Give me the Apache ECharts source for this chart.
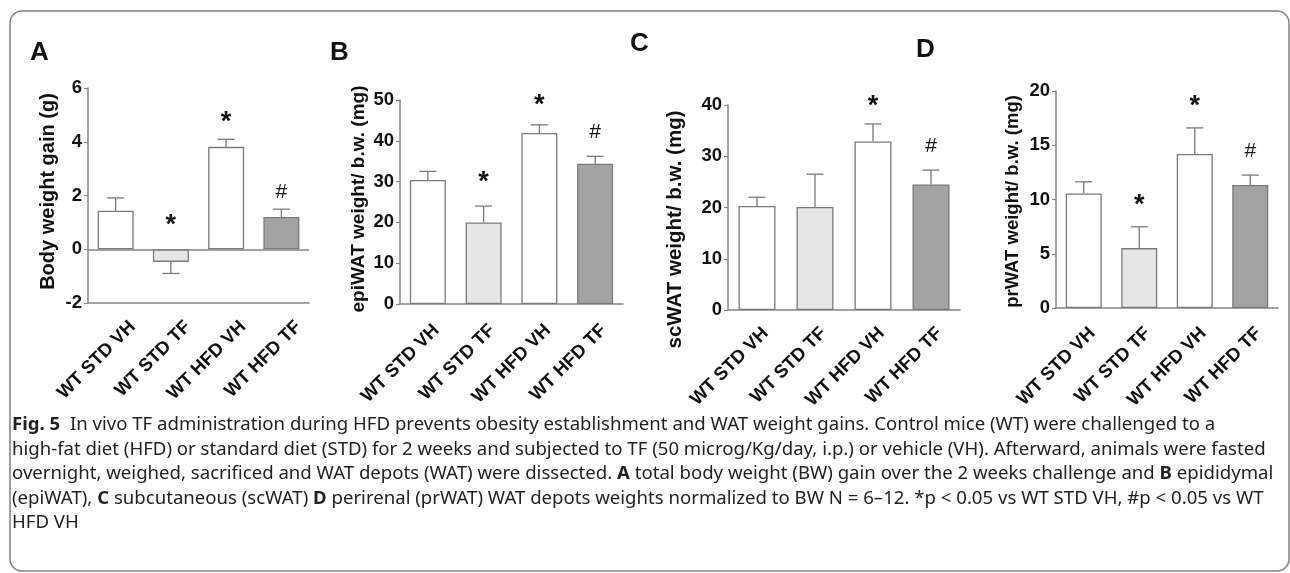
<!DOCTYPE html>
<html>
<head>
<meta charset="utf-8">
<script src="https://cdn.jsdelivr.net/npm/echarts@6/dist/echarts.min.js"></script>
<style>
  html, body { margin: 0; padding: 0; background: #fff; }
  #chart { width: 1290px; height: 573px; }
</style>
</head>
<body>
<div id="chart"></div>
<script>
// data
const categories = ["WT STD VH", "WT STD TF", "WT HFD VH", "WT HFD TF"];

const gainMean = [1.43, -0.47, 3.81, 1.2];
const gainSem = [0.48, 0.43, 0.28, 0.29];
const gainSig = ["", "*", "*", "#"];

const epiMean = [30.4, 20.0, 41.9, 34.4];
const epiSem = [2.1, 4.0, 2.0, 1.8];
const epiSig = ["", "*", "*", "#"];

const scMean = [20.3, 20.1, 32.9, 24.5];
const scSem = [1.7, 6.4, 3.4, 2.8];
const scSig = ["", "", "*", "#"];

const prMean = [10.56, 5.52, 14.2, 11.33];
const prSem = [1.07, 1.97, 2.4, 0.92];
const prSig = ["", "*", "*", "#"];

const gainTicks = { min: -2, max: 6, interval: 2 };
const epiTicks = { min: 0, max: 50, interval: 10 };
const scTicks = { min: 0, max: 40, interval: 10 };
const prTicks = { min: 0, max: 20, interval: 5 };

const captionLines = [
  "{b|Fig. 5}  In vivo TF administration during HFD prevents obesity establishment and WAT weight gains. Control mice (WT) were challenged to a",
  "high-fat diet (HFD) or standard diet (STD) for 2 weeks and subjected to TF (50 microg/Kg/day, i.p.) or vehicle (VH). Afterward, animals were fasted",
  "overnight, weighed, sacrificed and WAT depots (WAT) were dissected. {b|A} total body weight (BW) gain over the 2 weeks challenge and {b|B} epididymal",
  "(epiWAT), {b|C} subcutaneous (scWAT) {b|D} perirenal (prWAT) WAT depots weights normalized to BW N = 6–12. *p < 0.05 vs WT STD VH, #p < 0.05 vs WT",
  "HFD VH",
];

const FONT = "'Liberation Sans', Arial, sans-serif";
const CAP_FONT = "'Noto Sans', sans-serif";
const AXIS_GRAY = "#858585";
const barColors = ["#ffffff", "#e6e6e6", "#ffffff", "#a3a3a3"];

const panels = [
  { letter: "A", lx: 30, ly: 53, title: "Body weight gain (g)", titleSize: 20, nameGap: 30, shift: -4,
    mean: gainMean, sem: gainSem, sig: gainSig, ticks: gainTicks, starGap: [17, 24, 17, 17],
    labelLine: 48, labelMargin: 4,
    grid: { left: 88, top: 88, width: 221, height: 215 }, zeroLine: true },
  { letter: "B", lx: 330, ly: 53, title: "epiWAT weight/ b.w. (mg)", titleSize: 19, nameGap: 32, shift: -3,
    mean: epiMean, sem: epiSem, sig: epiSig, ticks: epiTicks, starGap: [17, 24, 19, 24],
    labelLine: 24, labelMargin: 15,
    grid: { left: 400, top: 100, width: 223, height: 204 } },
  { letter: "C", lx: 630, ly: 44, title: "scWAT weight/ b.w. (mg)", titleSize: 20.5, nameGap: 42, shift: 22,
    mean: scMean, sem: scSem, sig: scSig, ticks: scTicks, starGap: [17, 24, 17, 24],
    labelLine: 24, labelMargin: 12,
    grid: { left: 728, top: 105, width: 232, height: 205 } },
  { letter: "D", lx: 916, ly: 50, title: "prWAT weight/ b.w. (mg)", titleSize: 18.5, nameGap: 34, shift: 2,
    mean: prMean, sem: prSem, sig: prSig, ticks: prTicks, starGap: [17, 21, 21, 24],
    labelLine: 24, labelMargin: 14,
    grid: { left: 1056, top: 91, width: 222, height: 217 } },
];

const chart = echarts.init(document.getElementById("chart"));

const grids = [];
const xAxes = [];
const yAxes = [];
const series = [];
const graphics = [];

panels.forEach((p, k) => {
  grids.push(p.grid);

  xAxes.push({
    type: "category",
    gridIndex: k,
    data: categories,
    axisLine: { onZero: false, lineStyle: { color: AXIS_GRAY, width: 1.5 } },
    axisTick: { alignWithLabel: true, length: 5, lineStyle: { color: AXIS_GRAY, width: 1.2 } },
    axisLabel: {
      interval: 0, rotate: 45, margin: p.labelMargin,
      color: "#111", fontFamily: FONT, fontWeight: "bold", fontSize: 18.5,
      // hang the rotated text below its anchor so it sits down-right of the tick
      verticalAlign: "top",
      lineHeight: p.labelLine,
    },
  });

  // shift the rotated title along the axis with padding
  const pad = p.shift >= 0 ? [0, 2 * p.shift, 0, 0] : [0, 0, 0, -2 * p.shift];
  yAxes.push({
    type: "value",
    gridIndex: k,
    min: p.ticks.min,
    max: p.ticks.max,
    interval: p.ticks.interval,
    name: p.title,
    nameLocation: "middle",
    nameRotate: 90,
    nameGap: p.nameGap,
    nameTextStyle: {
      color: "#111", fontFamily: FONT, fontWeight: "bold", fontSize: p.titleSize, padding: pad,
    },
    splitLine: { show: false },
    axisLine: { show: true, lineStyle: { color: AXIS_GRAY, width: 1.5 } },
    axisTick: { show: true, length: 4, lineStyle: { color: AXIS_GRAY, width: 1.2 } },
    axisLabel: { margin: 6, color: "#111", fontFamily: FONT, fontWeight: "bold", fontSize: 18.5 },
  });

  const bar = {
    type: "bar",
    xAxisIndex: k,
    yAxisIndex: k,
    barWidth: k === 2 ? 37 : 36,
    data: p.mean.map((v, i) => ({
      value: v,
      itemStyle: { color: barColors[i], borderColor: "#7a7a7a", borderWidth: 1.3 },
    })),
    silent: true,
    z: 3,
  };
  if (p.zeroLine) {
    bar.markLine = {
      silent: true,
      symbol: "none",
      label: { show: false },
      lineStyle: { color: AXIS_GRAY, width: 1.5, type: "solid" },
      data: [{ yAxis: 0 }],
    };
  }
  series.push(bar);

  // error bars (one side, away from zero)
  series.push({
    type: "custom",
    xAxisIndex: k,
    yAxisIndex: k,
    silent: true,
    z: 4,
    data: p.mean.map((v, i) => [i, v, v >= 0 ? v + p.sem[i] : v - p.sem[i]]),
    renderItem: (params, api) => {
      const base = api.coord([api.value(0), api.value(1)]);
      const end = api.coord([api.value(0), api.value(2)]);
      const style = { stroke: "#7a7a7a", lineWidth: 1.3 };
      return {
        type: "group",
        children: [
          { type: "line", shape: { x1: base[0], y1: base[1], x2: end[0], y2: end[1] }, style },
          { type: "line", shape: { x1: end[0] - 8.5, y1: end[1], x2: end[0] + 8.5, y2: end[1] }, style },
        ],
      };
    },
  });

  // significance marks above the error bars
  series.push({
    type: "custom",
    xAxisIndex: k,
    yAxisIndex: k,
    silent: true,
    z: 5,
    data: p.mean.map((v, i) => [i, Math.max(0, v + p.sem[i])]),
    renderItem: (params, api) => {
      const i = params.dataIndex;
      const s = p.sig[i];
      if (!s) return null;
      const pt = api.coord([api.value(0), api.value(1)]);
      const star = s === "*";
      return {
        type: "text",
        x: pt[0],
        y: pt[1] - p.starGap[i],
        style: {
          text: s,
          align: "center",
          verticalAlign: "middle",
          fill: "#111",
          font: star ? "bold 27px " + FONT : "normal 21px " + FONT,
        },
      };
    },
  });

  graphics.push({
    type: "text",
    x: p.lx,
    y: p.ly,
    style: { text: p.letter, font: "bold 26px " + FONT, fill: "#111", verticalAlign: "middle" },
  });
});

// frame
graphics.push({
  type: "rect",
  shape: { x: 10, y: 11, width: 1279, height: 560, r: 12 },
  style: { fill: "none", stroke: "#808080", lineWidth: 1.5 },
  z: -1,
});

// caption
captionLines.forEach((line, i) => {
  graphics.push({
    type: "text",
    x: 12,
    y: 425 + i * 24.5,
    style: {
      text: line,
      fill: "#222",
      font: "18.6px " + CAP_FONT,
      verticalAlign: "middle",
      rich: { b: { fontWeight: "bold", fontFamily: CAP_FONT, fontSize: 18.6, fill: "#222" } },
    },
  });
});

chart.setOption({
  animation: false,
  backgroundColor: "#ffffff",
  grid: grids,
  xAxis: xAxes,
  yAxis: yAxes,
  series: series,
  graphic: graphics,
});
</script>
</body>
</html>
